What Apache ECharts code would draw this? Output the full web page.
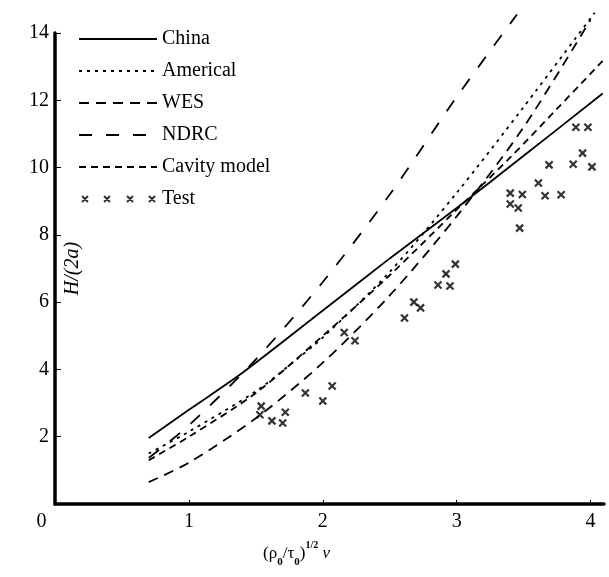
<!DOCTYPE html>
<html lang="en">

<head>
	<meta charset="UTF-8">
	<script src="https://cdn.jsdelivr.net/npm/echarts@6.0.0/dist/echarts.min.js"></script>
	<title>H/(2a)</title>
	<style>
		html, body { margin: 0; padding: 0; background: #fff; }
	</style>
</head>

<body>
	<div id="main" style="width: 609px;height:577px;"></div>

	<script>
		// values: [x, H/(2a)]
		var china = [[0.7, 1.96], [1.0, 2.8], [1.4, 3.9], [2.0, 5.75], [2.5, 7.3], [3.0, 8.8], [3.5, 10.35], [4.09, 12.2]];
		var americal = [[0.7, 1.5], [1.0, 2.15], [1.5, 3.35], [1.78, 4.22], [2.0, 4.95], [2.5, 6.9], [3.0, 9.25], [3.5, 11.8], [4.03, 14.6]];
		var wes = [[0.7, 0.65], [1.0, 1.23], [1.5, 2.55], [2.0, 4.2], [2.5, 6.2], [3.0, 8.55], [3.5, 11.2], [4.0, 14.4]];
		var ndrc = [[0.7, 1.37], [1.0, 2.34], [1.5, 4.3], [2.0, 6.6], [2.5, 9.2], [3.0, 12.1], [3.45, 14.55]];
		var cavity = [[0.7, 1.3], [1.0, 2.0], [1.5, 3.3], [2.0, 5.0], [2.5, 6.8], [3.0, 8.75], [3.4, 10.3], [3.75, 11.75], [4.09, 13.17]];
		var test = [
			[1.53, 2.65], [1.54, 2.91], [1.62, 2.47], [1.70, 2.41], [1.72, 2.73], [1.87, 3.3], [2.0, 3.06], [2.07, 3.51],
			[2.16, 5.1], [2.24, 4.85], [2.61, 5.53], [2.68, 6.0], [2.73, 5.83], [2.86, 6.51], [2.95, 6.48], [2.92, 6.84],
			[2.99, 7.13], [3.40, 9.24], [3.49, 9.2], [3.40, 8.92], [3.46, 8.8], [3.47, 8.2], [3.61, 9.54], [3.66, 9.16],
			[3.78, 9.19], [3.69, 10.08], [3.87, 10.1], [3.94, 10.43], [4.01, 10.02], [3.89, 11.2], [3.98, 11.2]
		];
		var xTicks = [1, 2, 3, 4];
		var xLabels = [0, 1, 2, 3, 4];

		var serif = 'Liberation Serif';
		var cross = 'path://M0 0L10 10M10 0L0 10';
		var crossRow = 'path://M0 0M78 14M3 4L9 10M9 4L3 10M25 4L31 10M31 4L25 10M48 4L54 10M54 4L48 10M70 4L76 10M76 4L70 10';

		function lineSeries(name, data, type) {
			return {
				name: name,
				type: 'line',
				data: data,
				smooth: 0.3,
				symbol: 'none',
				clip: false,
				itemStyle: { color: '#000' },
				lineStyle: { color: '#000', width: 1.8, type: type }
			};
		}

		// legend entry for a line series: no dot in the middle of the sample
		function lineKey(name) {
			return { name: name, itemStyle: { opacity: 0 } };
		}

		var chart = echarts.init(document.getElementById('main'));

		chart.setOption({
			backgroundColor: '#fff',
			animation: false,
			grid: { left: 55, top: 33, right: 5, bottom: 73 },
			legend: {
				orient: 'vertical',
				left: 78,
				top: 29,
				padding: 0,
				itemWidth: 78,
				itemHeight: 14,
				itemGap: 12,
				textStyle: { fontFamily: serif, fontSize: 20, color: '#000', lineHeight: 20 },
				data: [
					lineKey('China'), lineKey('Americal'), lineKey('WES'), lineKey('NDRC'), lineKey('Cavity model'),
					{ name: 'Test', icon: crossRow }
				]
			},
			xAxis: {
				type: 'value',
				min: 0,
				max: 4.1,
				name: '{a|(ρ}{s|0}{a|/τ}{s|0}{a|)}{p|1/2}{i| ν}',
				nameLocation: 'middle',
				nameGap: 36,
				nameTextStyle: {
					padding: [0, 66, 0, 0],
					rich: {
						a: { fontFamily: serif, fontSize: 17, color: '#000', lineHeight: 28 },
						s: { fontFamily: serif, fontSize: 11, fontWeight: 'bold', color: '#000', lineHeight: 14, verticalAlign: 'bottom' },
						p: { fontFamily: serif, fontSize: 10, fontWeight: 'bold', color: '#000', lineHeight: 10, verticalAlign: 'top' },
						i: { fontFamily: serif, fontSize: 17, fontStyle: 'italic', color: '#000', lineHeight: 28 }
					}
				},
				axisLine: { onZero: false, lineStyle: { color: '#000', width: 3.5 } },
				axisTick: { inside: true, length: 4, customValues: xTicks, lineStyle: { color: '#000', width: 1 } },
				axisLabel: {
					customValues: xLabels,
					margin: 8,
					color: '#000',
					fontFamily: serif,
					fontSize: 20,
					formatter: function (v) { return v === 0 ? '{z|0}' : String(v); },
					rich: { z: { fontFamily: serif, fontSize: 20, color: '#000', padding: [0, 27, 0, 0] } }
				},
				splitLine: { show: false }
			},
			yAxis: {
				type: 'value',
				min: 0,
				max: 14,
				interval: 2,
				name: 'H/(2a)',
				nameLocation: 'middle',
				nameRotate: 90,
				nameGap: -28,
				nameMoveOverlap: false,
				nameTextStyle: { fontFamily: serif, fontSize: 20, fontStyle: 'italic', color: '#000' },
				axisLine: { lineStyle: { color: '#000', width: 3.5 } },
				axisTick: { inside: true, length: 6, lineStyle: { color: '#000', width: 1 } },
				axisLabel: { showMinLabel: false, margin: 6, color: '#000', fontFamily: serif, fontSize: 20 },
				splitLine: { show: false }
			},
			series: [
				lineSeries('China', china, 'solid'),
				lineSeries('Americal', americal, [3, 5]),
				lineSeries('WES', wes, [10, 7]),
				lineSeries('NDRC', ndrc, [13, 14]),
				lineSeries('Cavity model', cavity, [7, 5]),
				{
					name: 'Test',
					type: 'scatter',
					data: test,
					symbol: cross,
					symbolSize: 7,
					itemStyle: { color: '#000', borderColor: '#000', borderWidth: 2.2 }
				}
			]
		});
	</script>
</body>

</html>
